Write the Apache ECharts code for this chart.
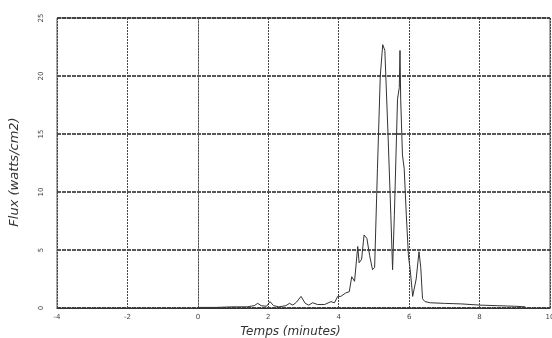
<!DOCTYPE html>
<html>
<head>
<meta charset="utf-8">
<script src="https://cdn.jsdelivr.net/npm/echarts@6/dist/echarts.min.js"></script>
<style>html,body{margin:0;padding:0;background:#fff}#c{width:552px;height:338px}</style>
</head>
<body>
<div id="c"></div>
<script>
// Time (minutes)
var timeMin = [0.0,0.5,1.0,1.4,1.6,1.7,1.8,1.95,2.05,2.15,2.3,2.5,2.6,2.7,2.8,2.93,3.05,3.15,3.26,3.4,3.6,3.78,3.88,3.97,4.06,4.2,4.3,4.37,4.45,4.54,4.58,4.65,4.72,4.8,4.88,4.96,5.02,5.1,5.18,5.25,5.31,5.4,5.48,5.53,5.58,5.67,5.72,5.74,5.76,5.81,5.86,5.92,5.98,6.03,6.1,6.14,6.2,6.28,6.33,6.38,6.45,6.6,7.0,7.5,8.0,8.5,9.0,9.3];
// Flux (watts/cm2)
var flux = [0.05,0.05,0.1,0.1,0.2,0.4,0.2,0.15,0.55,0.2,0.1,0.2,0.4,0.25,0.5,1.0,0.4,0.25,0.45,0.3,0.3,0.55,0.45,1.0,1.0,1.3,1.4,2.7,2.3,5.3,3.9,4.2,6.3,6.0,4.5,3.3,3.5,12,20,22.7,22.2,15,8,3.3,8,18,19,22.2,18,13.2,12,8,4.5,3.3,1.0,0.9,2.5,4.85,3.5,0.8,0.55,0.45,0.4,0.35,0.25,0.2,0.15,0.1];
var xTicks = ['-4','-2','0','2','4','6','8','10'];
var yTicks = ['0','5','10','15','20','25'];

var pts = timeMin.map(function(t,i){return [t, flux[i]];});
var chart = echarts.init(document.getElementById('c'), null, {renderer:'canvas'});
chart.setOption({
  animation:false,
  backgroundColor:'#fff',
  grid:{left:57,right:2,top:18,bottom:30,show:true,borderColor:'#555',borderWidth:1,
    containLabel:false,outerBoundsMode:'none'},
  xAxis:{type:'value',min:-4,max:10,interval:2,
    name:'Temps (minutes)',nameLocation:'middle',nameGap:16,
    nameTextStyle:{fontFamily:'DejaVu Sans',fontStyle:'italic',fontSize:12,color:'#333',padding:[0,26,0,0]},
    axisLine:{show:true,lineStyle:{color:'#333',width:1.2}},
    axisTick:{show:false},
    axisLabel:{fontFamily:'DejaVu Sans',fontSize:7,color:'#444',margin:6,
      formatter:function(v){var i=Math.round((v+4)/2);return xTicks[i];}},
    splitLine:{show:true,lineStyle:{color:'#444',width:1,type:[2,1]}}
  },
  yAxis:{type:'value',min:0,max:25,interval:5,
    name:'Flux (watts/cm2)',nameLocation:'middle',nameGap:36,
    nameTextStyle:{fontFamily:'DejaVu Sans',fontStyle:'italic',fontSize:13,color:'#333',padding:[0,18,0,0]},
    axisLine:{show:true,lineStyle:{color:'#555',width:1,type:[2,1]}},
    axisTick:{show:false},
    axisLabel:{fontFamily:'DejaVu Sans',fontSize:7,color:'#444',margin:12,rotate:90,
      formatter:function(v){return yTicks[Math.round(v/5)];}},
    splitLine:{show:true,lineStyle:{color:'#222',width:1.6,type:[4,1]}}
  },
  series:[{type:'line',data:pts,showSymbol:false,
    lineStyle:{color:'#333',width:1},z:5}]
});
</script>
</body>
</html>
